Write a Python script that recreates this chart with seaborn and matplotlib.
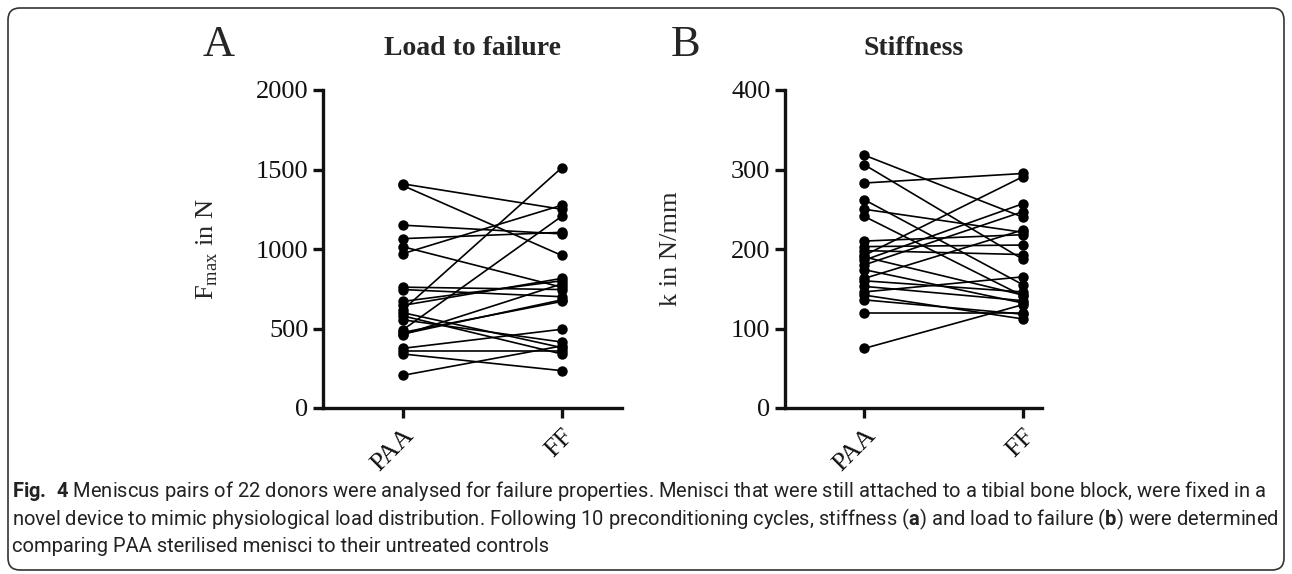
import numpy as np
import pandas as pd
import matplotlib
matplotlib.use("Agg")
import matplotlib.pyplot as plt
import seaborn as sns
from matplotlib.patches import FancyBboxPatch

# ---------------- data ----------------
groups = ["PAA", "FF"]

load_paa = [1410, 1400, 1150, 1065, 1015, 970, 760, 745, 670, 645, 615,
            600, 580, 555, 490, 475, 465, 460, 375, 360, 340, 205]
load_ff = [1250, 960, 1095, 1105, 760, 1275, 745, 700, 800, 815, 1510,
           380, 340, 415, 1205, 670, 680, 780, 495, 360, 235, 390]

stiff_paa = [318, 306, 283, 262, 250, 241, 210, 203, 198, 192, 186,
             180, 174, 163, 160, 153, 146, 142, 136, 120, 75, 190]
stiff_ff = [240, 187, 295, 155, 221, 141, 218, 205, 193, 291, 257,
            247, 132, 224, 146, 135, 165, 112, 118, 120, 130, 142]

caption = [
    r"$\bf{Fig.\ 4}$ Meniscus pairs of 22 donors were analysed for failure properties. "
    "Menisci that were still attached to a tibial bone block, were fixed in a",
    "novel device to mimic physiological load distribution. Following 10 preconditioning "
    r"cycles, stiffness ($\bf{a}$) and load to failure ($\bf{b}$) were determined",
    "comparing PAA sterilised menisci to their untreated controls",
]


def long_df(paa, ff):
    n = len(paa)
    return pd.DataFrame({
        "donor": list(range(n)) * 2,
        "group": ["PAA"] * n + ["FF"] * n,
        "value": list(paa) + list(ff),
    })


df_load = long_df(load_paa, load_ff)
df_stiff = long_df(stiff_paa, stiff_ff)

# ---------------- style ----------------
sns.set_style("ticks")
plt.rcParams["font.family"] = ["Liberation Serif", "DejaVu Serif"]
plt.rcParams["mathtext.fontset"] = "custom"
plt.rcParams["mathtext.rm"] = "Liberation Serif"
plt.rcParams["mathtext.bf"] = "Roboto:bold"

fig = plt.figure(figsize=(12.92, 5.74), dpi=100)

W, H = 1292, 574
axA = fig.add_axes([323 / W, 1 - 408 / H, (622 - 323) / W, (408 - 90) / H])
axB = fig.add_axes([785 / W, 1 - 408 / H, (1042 - 785) / W, (408 - 90) / H])

panels = [
    (axA, df_load, 2000, 500, r"$\mathrm{F}_{\mathrm{max}}$ in N", "Load to failure", 1.38, -0.345),
    (axB, df_stiff, 400, 100, "k in N/mm", "Stiffness", 1.12, -0.40),
]

for ax, d, ymax, step, ylab, title, xr, lx in panels:
    sns.lineplot(data=d, x="group", y="value", units="donor", estimator=None,
                 color="black", linewidth=1.2, marker="o", markersize=7.5,
                 markeredgewidth=0, sort=False, ax=ax)
    ax.set_ylim(0, ymax)
    ax.set_yticks(np.arange(0, ymax + 1, step))
    ax.set_xlim(-0.5, xr)
    ax.set_xticks([0, 1])
    ax.set_xticklabels(groups, rotation=45, ha="right", rotation_mode="anchor")
    ax.set_xlabel("")
    ax.set_ylabel(ylab, fontsize=19)
    ax.yaxis.set_label_coords(lx, 0.5)
    ax.set_title(title, fontsize=20, fontweight="bold", pad=25)
    sns.despine(ax=ax)
    for s in ["left", "bottom"]:
        ax.spines[s].set_linewidth(2.4)
        ax.spines[s].set_color("#111111")
    ax.tick_params(axis="both", width=2.4, length=7, labelsize=19,
                   color="#111111", labelcolor="#111111")
    ax.tick_params(axis="x", pad=5)
    ax.set_facecolor("none")

fig.text(219 / W, 1 - 45 / H, "A", fontsize=32, ha="center", va="center")
fig.text(686 / W, 1 - 45 / H, "B", fontsize=32, ha="center", va="center")

# caption: fit the first line to the width it takes in the figure
cap_kw = dict(family="Roboto", color="#222222", ha="left", va="center")
probe = fig.text(12 / W, 1 - 491 / H, caption[0], fontsize=14, **cap_kw)
fig.canvas.draw()
w = probe.get_window_extent().width
probe.remove()
cap_size = 14 * 1256 / w
for i, ypix in enumerate([491, 519, 547]):
    fig.text(12 / W, 1 - ypix / H, caption[i], fontsize=cap_size, **cap_kw)

# rounded frame around the figure
frame = FancyBboxPatch((8, 4), 1276, 562, boxstyle="round,pad=0,rounding_size=12",
                       transform=None, fill=False, edgecolor="#333333", linewidth=1.2)
fig.patches.append(frame)

fig.savefig("out.png", dpi=100)
